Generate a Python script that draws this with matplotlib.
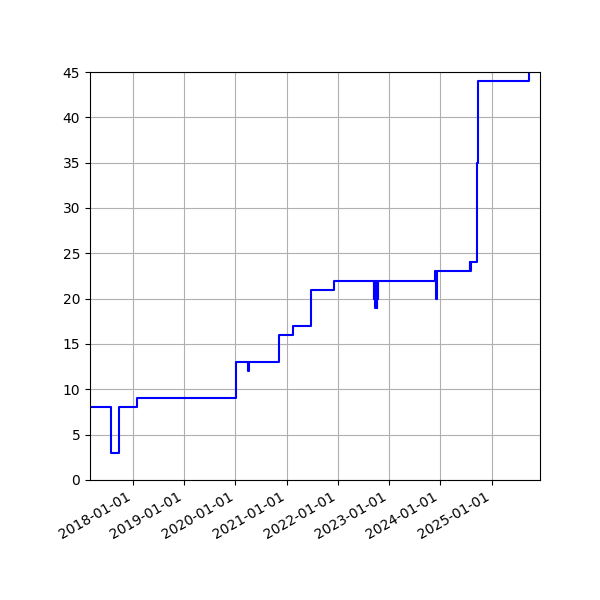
import matplotlib
matplotlib.use("Agg")
import matplotlib.pyplot as plt
import matplotlib.dates as mdates
import numpy as np

# dates where the value changes, and the value from that date on
change_dates = [
    "2017-03-01", "2017-07-27", "2017-09-25", "2018-02-01", "2020-01-03",
    "2020-04-01", "2020-04-04", "2020-11-05", "2021-02-13", "2021-06-20",
    "2021-12-05", "2022-09-15", "2022-09-18", "2022-09-23", "2022-09-27",
    "2022-10-01", "2022-10-04", "2022-10-06", "2022-10-08", "2022-10-11",
    "2022-10-14", "2023-11-25", "2023-12-05", "2023-12-07", "2024-07-30",
    "2024-08-02", "2024-08-05", "2024-09-22", "2024-09-26", "2025-09-27",
    "2025-12-12",
]
values = [
    8, 3, 8, 9, 13,
    12, 13, 16, 17, 21,
    22, 20, 22, 19, 20,
    22, 20, 19, 22, 20,
    22, 23, 20, 23, 24,
    23, 24, 35, 44, 46,
    46,
]

x = np.array(change_dates, dtype="datetime64[D]")

fig = plt.figure(figsize=(6, 6), dpi=100)
ax = fig.add_subplot(111)
ax.plot(x, values, color="blue", drawstyle="steps-post", linewidth=1.5)

ax.set_xlim(x[0], x[-1])
ax.set_ylim(0, 45)
ax.set_yticks(np.arange(0, 46, 5))
ax.xaxis.set_major_locator(mdates.YearLocator())
ax.xaxis.set_major_formatter(mdates.DateFormatter("%Y-%m-%d"))
ax.grid(True, color="#b0b0b0")
fig.autofmt_xdate()
fig.subplots_adjust(left=0.15, right=0.9, top=0.88, bottom=0.2)

fig.savefig("out.png", dpi=100)
